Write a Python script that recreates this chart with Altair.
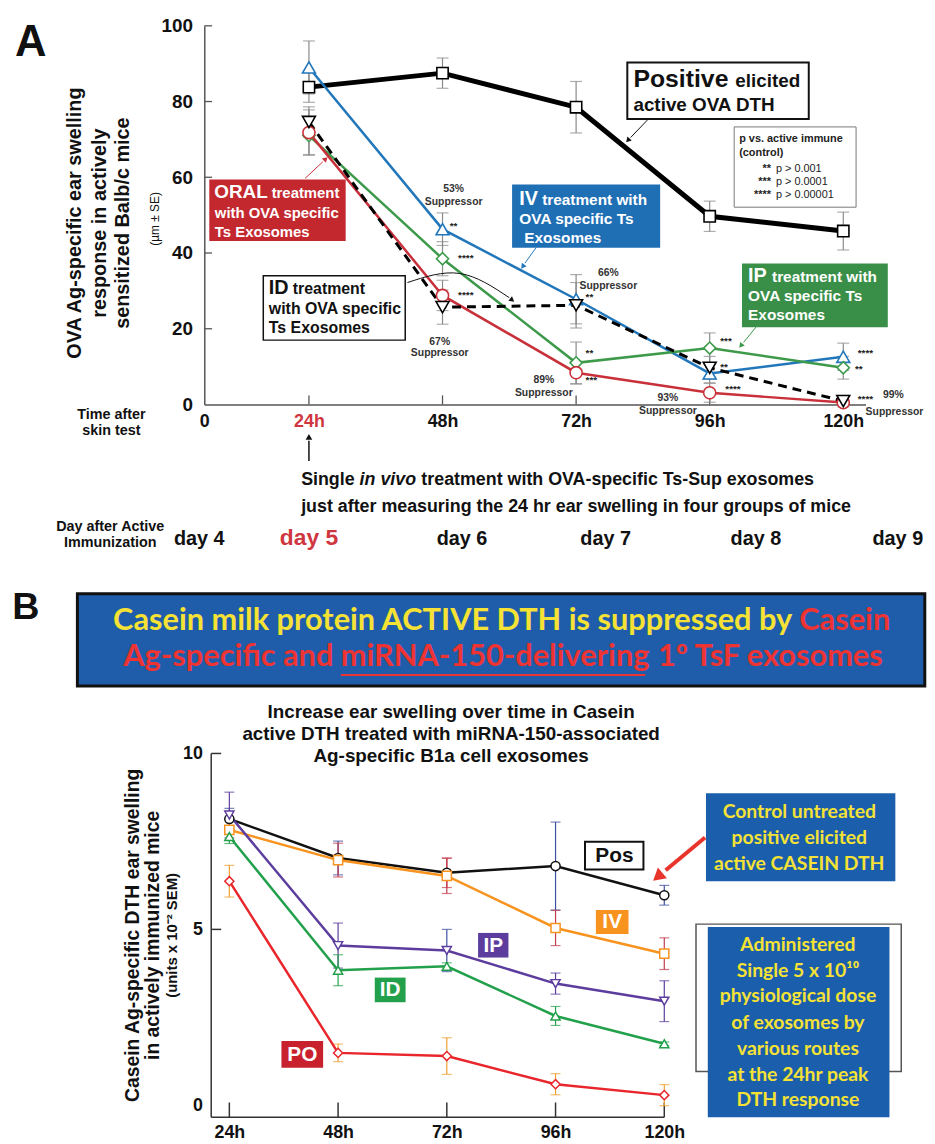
import altair as alt
import pandas as pd

FONT = "Liberation Sans, Arial, Helvetica, sans-serif"
LATO = "Lato, Carlito, Calibri, sans-serif"

# ---------------- data ----------------
hours = [24, 48, 72, 96, 120]

# Panel A: OVA-specific ear swelling (um), mean and SE
a_pos = [83.8, 87.5, 78.5, 49.7, 45.8]
a_pos_se = [4.0, 4.0, 6.8, 4.0, 5.0]
a_iv = [89.0, 46.3, 27.8, 8.2, 12.6]
a_iv_se = [7.0, 4.3, 6.5, 2.5, 3.6]
a_ip = [71.0, 38.5, 11.0, 14.9, 9.7]
a_ip_se = [5.0, 4.5, 5.5, 4.0, 3.0]
a_oral = [71.8, 28.8, 8.4, 3.1, 0.5]
a_oral_se = [6.0, 4.0, 3.0, 2.5, 0.5]
a_id = [74.6, 25.7, 26.2, 9.7, 0.9]
a_id_se = [4.0, 4.5, 6.0, 3.0, 1.5]

a_xticks = [5.2, 24, 48, 72, 96, 120]
a_yticks = [0, 20, 40, 60, 80, 100]
days = ["day 4", "day 5", "day 6", "day 7", "day 8", "day 9"]

# Panel B: Casein-specific ear swelling (units x 10^-2), mean and SEM
b_pos = [8.14, 7.03, 6.61, 6.80, 5.97]
b_pos_se = [0.30, 0.48, 0.42, 1.25, 0.28]
b_iv = [7.83, 6.97, 6.52, 5.04, 4.31]
b_iv_se = [0.30, 0.48, 0.50, 0.50, 0.45]
b_ip = [8.25, 4.54, 4.40, 3.46, 2.96]
b_ip_se = [0.65, 0.64, 0.60, 0.30, 0.58]
b_id = [7.64, 3.84, 3.95, 2.54, 1.75]
b_id_se = [0.20, 0.44, 0.10, 0.27, 0.05]
b_po = [6.37, 1.49, 1.40, 0.60, 0.29]
b_po_se = [0.45, 0.25, 0.52, 0.30, 0.30]
b_yticks = [0, 5, 10]

# ---------------- scales ----------------
A_DOM_X = [5.2, 124.0]
A_DOM_Y = [0, 100]
A_W, A_H = 667, 382
B_DOM_X = [18.47, 120.0]
B_DOM_Y = [-0.34, 10]
B_W, B_H = 464, 367

axA_x = alt.Axis(values=a_xticks, labelExpr="datum.value < 10 ? '0' : datum.value + 'h'",
                 title=None, grid=False, ticks=False, domainColor="#555", domainWidth=1.5,
                 labelFont=FONT, labelFontSize=18, labelFontWeight="bold", labelPadding=8,
                 labelFlush=False, labelOverlap=False,
                 labelColor={"condition": {"test": "datum.value == 24", "value": "#d0363f"}, "value": "#111"})
axA_y = alt.Axis(values=a_yticks, title=None, grid=False, ticks=False, domainColor="#555",
                 domainWidth=1.5, labelFont=FONT, labelFontSize=19, labelFontWeight="bold",
                 labelPadding=12, labelFlush=False, labelOverlap=False, labelColor="#111")
axB_x = alt.Axis(values=hours, labelExpr="datum.value + 'h'", title=None, grid=False, ticks=False,
                 domain=False, labelFont=FONT, labelFontSize=18, labelFontWeight="bold",
                 labelPadding=6, labelFlush=False, labelOverlap=False, labelColor="#111")
axB_y = alt.Axis(values=b_yticks, title=None, grid=False, ticks=False, domain=False,
                 labelFont=FONT, labelFontSize=18, labelFontWeight="bold", labelPadding=2,
                 labelFlush=False, labelOverlap=False, labelColor="#111")


def XA(f="h"):
    return alt.X(f"{f}:Q", scale=alt.Scale(domain=A_DOM_X, nice=False, zero=False), axis=axA_x)


def YA(f="v"):
    return alt.Y(f"{f}:Q", scale=alt.Scale(domain=A_DOM_Y, nice=False, zero=False), axis=axA_y)


def XB(f="h"):
    return alt.X(f"{f}:Q", scale=alt.Scale(domain=B_DOM_X, nice=False, zero=False), axis=axB_x)


def YB(f="v"):
    return alt.Y(f"{f}:Q", scale=alt.Scale(domain=B_DOM_Y, nice=False, zero=False), axis=axB_y)


def T(rows, X, Y, **mk):
    df = pd.DataFrame(rows, columns=["h", "v", "t"])
    mk.setdefault("font", FONT)
    return alt.Chart(df).mark_text(**mk).encode(x=X(), y=Y(), text="t:N")


def R(rows, X, Y, **mk):
    df = pd.DataFrame(rows, columns=["h", "h2", "v", "v2"])
    return alt.Chart(df).mark_rect(**mk).encode(x=X(), x2="h2", y=Y(), y2="v2")


def S(rows, X, Y, **mk):
    df = pd.DataFrame(rows, columns=["h", "v", "h2", "v2"])
    return alt.Chart(df).mark_rule(**mk).encode(x=X(), y=Y(), x2="h2", y2="v2")


def HEAD(rows, X, Y, color, size):
    df = pd.DataFrame(rows, columns=["h", "v", "a"])
    return alt.Chart(df).mark_point(shape="triangle", filled=True, color=color, size=size,
                                    opacity=1).encode(x=X(), y=Y(), angle=alt.Angle("a:Q", scale=None))


def series_frames(vals, errs):
    df = pd.DataFrame({"h": hours, "v": vals,
                       "lo": [a - b for a, b in zip(vals, errs)],
                       "hi": [a + b for a, b in zip(vals, errs)]})
    caps = pd.concat([df[["h", "lo"]].rename(columns={"lo": "v"}),
                      df[["h", "hi"]].rename(columns={"hi": "v"})])
    return df, caps


# ---------------- Panel A ----------------
A_SERIES = [
    (a_pos, a_pos_se, "#000000", 5, None, "square", 130),
    (a_iv, a_iv_se, "#2277bb", 2.5, None, "triangle-up", 170),
    (a_ip, a_ip_se, "#3d9a4a", 2.5, None, "diamond", 150),
    (a_oral, a_oral_se, "#c8303a", 2.5, None, "circle", 150),
    (a_id, a_id_se, "#000000", 3, [9, 6], "triangle-down", 170),
]

la = []
# inward ticks
la.append(S([(h, 0, h, 2.4) for h in hours], XA, YA, color="#555", strokeWidth=1.3))
la.append(S([(5.2, v, 6.6, v) for v in a_yticks[1:]], XA, YA, color="#555", strokeWidth=1.3))

for vals, errs, col, sw, dash, shape, size in A_SERIES:
    df, caps = series_frames(vals, errs)
    la.append(alt.Chart(df).mark_rule(color="#8a8a8a", strokeWidth=1.2).encode(x=XA(), y=YA("lo"), y2="hi"))
    la.append(alt.Chart(caps).mark_tick(orient="horizontal", size=12, thickness=1.2, color="#8a8a8a").encode(x=XA(), y=YA()))
for vals, errs, col, sw, dash, shape, size in A_SERIES:
    df, caps = series_frames(vals, errs)
    mk = dict(color=col, strokeWidth=sw)
    if dash:
        mk["strokeDash"] = dash
    la.append(alt.Chart(df).mark_line(**mk).encode(x=XA(), y=YA()))
for vals, errs, col, sw, dash, shape, size in A_SERIES:
    df, caps = series_frames(vals, errs)
    la.append(alt.Chart(df).mark_point(shape=shape, size=size, filled=True, fill="white", stroke=col,
                                       strokeWidth=1.6, opacity=1).encode(x=XA(), y=YA()))

# annotation boxes
la.append(R([(6.1, 30.6, 59.4, 43.2)], XA, YA, color="#c4282f"))
la.append(R([(15.8, 41.3, 34.0, 17.0)], XA, YA, fill="white", stroke="#111", strokeWidth=1.5))
la.append(R([(60.5, 87.1, 58.1, 41.4)], XA, YA, color="#1f6fb5"))
la.append(R([(81.2, 113.8, 90.3, 75.4)], XA, YA, fill="white", stroke="#111", strokeWidth=2))
la.append(R([(100.4, 122.3, 73.3, 52.1)], XA, YA, fill="white", stroke="#777", strokeWidth=1))
la.append(R([(101.8, 128.0, 37.2, 20.4)], XA, YA, color="#3a8f48"))

bl = dict(fontWeight="bold", align="left", baseline="alphabetic")
la.append(T([(7.0, 54.5, "ORAL")], XA, YA, fontSize=19, color="white", **bl))
la.append(T([(17.3, 54.5, "treatment"), (7.1, 49.3, "with OVA specific"), (7.1, 44.3, "Ts Exosomes")],
            XA, YA, fontSize=15, color="white", **bl))
la.append(T([(16.8, 29.3, "ID")], XA, YA, fontSize=20, color="#111", **bl))
la.append(T([(21.1, 29.3, "treatment"), (16.8, 23.9, "with OVA specific"), (16.8, 18.9, "Ts Exosomes")],
            XA, YA, fontSize=16, color="#111", **bl))
la.append(T([(61.8, 52.6, "IV")], XA, YA, fontSize=20, color="white", **bl))
la.append(T([(65.9, 52.6, "treatment with"), (61.8, 47.7, "OVA specific Ts"), (62.7, 42.7, "Exosomes")],
            XA, YA, fontSize=15.5, color="white", **bl))
la.append(T([(102.9, 32.3, "IP")], XA, YA, fontSize=20, color="white", **bl))
la.append(T([(107.2, 32.3, "treatment with"), (102.9, 27.3, "OVA specific Ts"), (102.9, 22.3, "Exosomes")],
            XA, YA, fontSize=15.5, color="white", **bl))
la.append(T([(82.3, 83.8, "Positive")], XA, YA, fontSize=25, color="#111", **bl))
la.append(T([(100.6, 83.8, "elicited"), (82.3, 77.5, "active OVA DTH")], XA, YA, fontSize=19, color="#111", **bl))
la.append(T([(101.3, 69.4, "p vs. active immune"), (101.3, 65.7, "(control)")], XA, YA, fontSize=11, color="#222", **bl))
la.append(T([(107.0, 61.5, "**"), (107.0, 57.9, "***"), (107.0, 54.4, "****")], XA, YA, fontSize=11,
            color="#222", fontWeight="bold", align="right", baseline="alphabetic"))
la.append(T([(107.9, 61.5, "p > 0.001"), (107.9, 57.9, "p > 0.0001"), (107.9, 54.4, "p > 0.00001")], XA, YA,
            fontSize=11, color="#222", align="left", baseline="alphabetic"))

# arrows
la.append(S([(23.3, 59.7, 26.5, 64.1)], XA, YA, color="#c8303a", strokeWidth=1))
la.append(HEAD([(26.9, 64.7, 46)], XA, YA, "#c8303a", 35))
la.append(S([(64.8, 41.4, 62.8, 37.3)], XA, YA, color="#2277bb", strokeWidth=1))
la.append(HEAD([(62.5, 36.6, 216)], XA, YA, "#2277bb", 35))
la.append(S([(84.8, 75.1, 81.8, 70.5)], XA, YA, color="#111", strokeWidth=1))
la.append(HEAD([(81.4, 69.9, 223)], XA, YA, "#111", 35))
la.append(S([(104.9, 21.5, 102.1, 16.4)], XA, YA, color="#3d9a4a", strokeWidth=1))
la.append(HEAD([(101.7, 15.7, 219)], XA, YA, "#3d9a4a", 35))
curve = pd.DataFrame({"h": [41.7, 51.1, 60.0], "v": [32.2, 34.6, 28.2]})
la.append(alt.Chart(curve).mark_line(color="#111", strokeWidth=1, interpolate="natural").encode(x=XA(), y=YA()))
la.append(HEAD([(60.4, 27.7, 128)], XA, YA, "#111", 35))
la.append(S([(24, -14.9, 24, -9.6)], XA, YA, color="#111", strokeWidth=1.5))
la.append(HEAD([(24, -8.8, 0)], XA, YA, "#111", 45))

# significance stars
stars = [(49.3, 47.0, "**"), (50.8, 38.7, "****"), (50.8, 29.0, "****"),
         (73.7, 28.3, "**"), (73.7, 13.6, "**"), (73.7, 6.5, "***"),
         (97.9, 16.7, "***"), (97.9, 9.9, "**"), (98.8, 4.2, "****"),
         (122.6, 13.6, "****"), (122.1, 9.4, "**"), (122.6, 1.4, "****")]
la.append(T(stars, XA, YA, fontSize=10, fontWeight="bold", color="#222", align="left", baseline="middle"))
supp = [(50.0, 56.8, "53%"), (50.0, 53.4, "Suppressor"),
        (47.5, 16.5, "67%"), (47.5, 13.6, "Suppressor"),
        (77.8, 34.6, "66%"), (77.8, 31.4, "Suppressor"),
        (66.2, 6.5, "89%"), (66.2, 2.9, "Suppressor"),
        (88.5, 1.8, "93%"), (88.5, -1.8, "Suppressor"),
        (129.0, 2.6, "99%"), (129.2, -1.9, "Suppressor")]
la.append(T(supp, XA, YA, fontSize=10.5, fontWeight="bold", color="#333", align="center", baseline="middle"))

# outside texts
la.append(T([(-26.0, 95.5, "A")], XA, YA, fontSize=44, fontWeight="bold", color="#111", align="center", baseline="middle"))
la.append(T([(-18.0, 47.9, "OVA Ag-specific ear swelling"), (-13.5, 47.9, "response in actively"),
             (-9.4, 47.9, "sensitized Balb/c mice")], XA, YA, fontSize=20, fontWeight="bold", color="#111",
            angle=270, align="center", baseline="middle"))
la.append(T([(-3.7, 49.0, "(µm ± SE)")], XA, YA, fontSize=12, color="#111", angle=270, align="center", baseline="middle"))
la.append(T([(-11.5, -3.9, "Time after"), (-11.5, -8.1, "skin test"),
             (-11.7, -33.5, "Day after Active"), (-11.7, -37.7, "Immunization")], XA, YA,
            fontSize=14.5, fontWeight="bold", color="#111", align="center", baseline="alphabetic"))
day_h = [4.3, 24.0, 51.5, 77.3, 104.3, 129.8]
la.append(T([(h, -37.2, d) for h, d in zip(day_h, days) if d != "day 5"], XA, YA, fontSize=20,
            fontWeight="bold", color="#111", align="center", baseline="alphabetic"))
la.append(T([(h, -37.2, d) for h, d in zip(day_h, days) if d == "day 5"], XA, YA, fontSize=23,
            fontWeight="bold", color="#d0363f", align="center", baseline="alphabetic"))
la.append(T([(22.6, -21.2, "Single"), (44.2, -21.2, "treatment with OVA-specific Ts-Sup exosomes"),
             (22.6, -28.3, "just after measuring the 24 hr ear swelling in four groups of mice")], XA, YA,
            fontSize=18, fontWeight="bold", color="#111", align="left", baseline="alphabetic"))
la.append(T([(33.1, -21.2, "in vivo")], XA, YA, fontSize=18, fontWeight="bold", fontStyle="italic",
            color="#111", align="left", baseline="alphabetic"))

panelA = alt.layer(*la).properties(width=A_W, height=A_H)

# ---------------- Panel B ----------------
B_SERIES = [
    (b_pos, b_pos_se, "#111111", "circle", ["#3d4fa0", "#3d4fa0", "#c23a4c", "#3d4fa0", "#3d4fa0"]),
    (b_iv, b_iv_se, "#f7931e", "square", ["#f7931e", "#c23a4c", "#c23a4c", "#c23a4c", "#c23a4c"]),
    (b_ip, b_ip_se, "#5c3d9e", "triangle-down", ["#5c3d9e", "#5c3d9e", "#3d4fa0", "#5c3d9e", "#5c3d9e"]),
    (b_id, b_id_se, "#22a04b", "triangle-up", ["#22a04b"] * 5),
    (b_po, b_po_se, "#e8262b", "diamond", ["#f0a030"] * 5),
]

lb = []
# axis lines and inward ticks
lb.append(S([(20, -0.34, 20, 10), (20, -0.34, 120, -0.34)], XB, YB, color="#333", strokeWidth=1.5))
lb.append(S([(h, -0.34, h, 0.08) for h in hours], XB, YB, color="#333", strokeWidth=1.5))
lb.append(S([(20, v, 22.2, v) for v in b_yticks[1:]], XB, YB, color="#333", strokeWidth=1.5))

for vals, errs, col, shape, ecols in B_SERIES:
    df, caps = series_frames(vals, errs)
    df["c"] = ecols
    caps["c"] = ecols + ecols
    lb.append(alt.Chart(df).mark_rule(strokeWidth=1.2).encode(x=XB(), y=YB("lo"), y2="hi",
                                                              color=alt.Color("c:N", scale=None)))
    lb.append(alt.Chart(caps).mark_tick(orient="horizontal", size=10, thickness=1.2).encode(
        x=XB(), y=YB(), color=alt.Color("c:N", scale=None)))
for vals, errs, col, shape, ecols in B_SERIES:
    df, caps = series_frames(vals, errs)
    lb.append(alt.Chart(df).mark_line(color=col, strokeWidth=2.5).encode(x=XB(), y=YB()))
for vals, errs, col, shape, ecols in B_SERIES:
    df, caps = series_frames(vals, errs)
    lb.append(alt.Chart(df).mark_point(shape=shape, size=85, filled=True, fill="white", stroke=col,
                                       strokeWidth=1.5, opacity=1).encode(x=XB(), y=YB()))

# series label boxes
lb.append(R([(102.5, 115.4, 7.49, 6.70)], XB, YB, fill="white", stroke="#111", strokeWidth=2))
lb.append(R([(104.9, 112.1, 5.55, 4.87)], XB, YB, color="#f7931e"))
lb.append(R([(78.9, 85.6, 4.90, 4.20)], XB, YB, color="#5c3d9e"))
lb.append(R([(56.1, 62.9, 3.63, 2.93)], XB, YB, color="#22a04b"))
lb.append(R([(35.5, 44.7, 1.83, 1.07)], XB, YB, color="#c8202c"))
cm = dict(fontWeight="bold", align="center", baseline="middle", fontSize=21)
lb.append(T([(109.0, 7.09, "Pos")], XB, YB, color="#111", **cm))
lb.append(T([(108.5, 5.20, "IV"), (82.25, 4.54, "IP"), (59.5, 3.27, "ID"), (40.1, 1.44, "PO")], XB, YB,
            color="white", **cm))

# right-hand explanation boxes
lb.append(R([(129.2, 171.0, 8.87, 6.37)], XB, YB, color="#1b5eab"))
lb.append(R([(127.0, 172.3, 5.15, 0.96)], XB, YB, fill=None, fillOpacity=0, stroke="#555", strokeWidth=1.5))
lb.append(R([(129.6, 169.7, 5.07, -0.34)], XB, YB, color="#1b5eab"))
yl = dict(font=LATO, fontWeight="bold", fontSize=19.5, color="#f5e235", align="center", baseline="middle")
lb.append(T([(149.8, 8.34, "Control untreated"), (149.8, 7.61, "positive elicited"),
             (149.8, 6.87, "active CASEIN DTH")], XB, YB, **yl))
lb.append(T([(149.5, 4.56, "Administered"), (149.5, 3.83, "Single 5 x 10¹⁰"),
             (149.5, 3.10, "physiological dose"), (149.5, 2.34, "of exosomes by"),
             (149.5, 1.61, "various routes"), (149.5, 0.87, "at the 24hr peak"),
             (149.5, 0.14, "DTH response")], XB, YB, **yl))
lb.append(S([(129.0, 7.61, 120.3, 6.68)], XB, YB, color="#e8352c", strokeWidth=4))
lb.append(HEAD([(118.9, 6.53, 230)], XB, YB, "#e8352c", 200))

# banner
lb.append(R([(-9.54, 177.5, 14.54, 11.92)], XB, YB, fill="#1f5ca9", stroke="#111", strokeWidth=3))
bn = dict(font=LATO, fontWeight="bold", fontSize=31, align="left", baseline="alphabetic")
lb.append(T([(-1.66, 13.52, "Casein milk protein ACTIVE DTH is suppressed by")], XB, YB, color="#f5e235", **bn))
lb.append(T([(149.8, 13.52, "Casein"), (0.59, 12.48, "Ag-specific and"), (48.6, 12.48, "miRNA-150-delivering"),
             (118.6, 12.48, "1º TsF exosomes")], XB, YB, color="#ee3333", **bn))
lb.append(S([(48.6, 12.23, 115.8, 12.23)], XB, YB, color="#ee3333", strokeWidth=2))

# titles
lb.append(T([(-20.9, 14.14, "B")], XB, YB, fontSize=38, fontWeight="bold", color="#111", align="center", baseline="middle"))
lb.append(T([(72.95, 11.01, "Increase ear swelling over time in Casein"),
             (72.95, 10.39, "active DTH treated with miRNA-150-associated"),
             (72.95, 9.77, "Ag-specific B1a cell exosomes")], XB, YB, fontSize=19, fontWeight="bold",
            color="#111", align="center", baseline="alphabetic"))
lb.append(T([(2.71, 4.83, "Casein Ag-specific DTH ear swelling"), (7.09, 4.83, "in actively immunized mice")],
            XB, YB, fontSize=19.5, fontWeight="bold", color="#111", angle=270, align="center", baseline="middle"))
lb.append(T([(11.25, 4.83, "(units  x 10⁻² SEM)")], XB, YB, fontSize=15, fontWeight="bold", color="#111",
            angle=270, align="center", baseline="middle"))

panelB = alt.layer(*lb).properties(width=B_W, height=B_H)

chart = alt.vconcat(panelA, panelB, spacing=38).properties(
    padding={"left": 4, "top": 4, "right": 0, "bottom": 0}
).configure_view(strokeWidth=0)

chart.save("out.html", embed_options={"renderer": "svg", "actions": False})
